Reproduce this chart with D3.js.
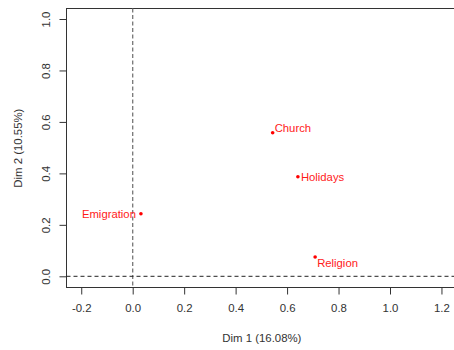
<!DOCTYPE html>
<html>
<head>
<meta charset="utf-8">
<script src="https://cdn.jsdelivr.net/npm/d3@7"></script>
<style>
  html, body { margin: 0; padding: 0; background: #fff; }
  svg { display: block; font-family: "Liberation Sans", Arial, sans-serif; }
</style>
</head>
<body>
<svg id="chart" width="454" height="350"></svg>
<script>
// Variable coordinates on the first two dimensions
const names = ["Church", "Holidays", "Emigration", "Religion"];
const dim1 = [0.544, 0.642, 0.032, 0.709];
const dim2 = [0.558, 0.387, 0.243, 0.075];

const xTicks = [-0.2, 0.0, 0.2, 0.4, 0.6, 0.8, 1.0, 1.2];
const yTicks = [0.0, 0.2, 0.4, 0.6, 0.8, 1.0];
const xTitle = "Dim 1 (16.08%)";
const yTitle = "Dim 2 (10.55%)";

const svg = d3.select("#chart");

// Plot region (the right edge of the frame runs just past the window)
const box = { left: 66.5, top: 8.5, right: 456, bottom: 287.5 };

const x = d3.scaleLinear().domain([0, 1]).range([132.7, 390]);
const y = d3.scaleLinear().domain([0, 1]).range([276.3, 19]);

const axisColor = "#333";
const fontSize = "11.4px";
// one decimal, plain hyphen for negatives
const fmt = d => d3.format(".1f")(d).replace("\u2212", "-");

// Frame
svg.append("rect")
  .attr("x", box.left).attr("y", box.top)
  .attr("width", box.right - box.left).attr("height", box.bottom - box.top)
  .attr("fill", "none").attr("stroke", axisColor).attr("stroke-width", 1);

// Bottom axis
const xAxis = svg.append("g")
  .attr("transform", `translate(0,${box.bottom})`)
  .call(d3.axisBottom(x).tickValues(xTicks).tickSize(7).tickPadding(9)
    .tickFormat(fmt));
xAxis.select(".domain").remove();
xAxis.selectAll("line").attr("stroke", axisColor);
xAxis.selectAll("text").attr("fill", axisColor).style("font-size", fontSize)
  .style("font-family", "Liberation Sans, Arial, sans-serif");

// Left axis, labels rotated vertical
const yAxis = svg.append("g")
  .attr("transform", `translate(${box.left},0)`)
  .call(d3.axisLeft(y).tickValues(yTicks).tickSize(7).tickFormat(fmt));
yAxis.select(".domain").remove();
yAxis.selectAll("line").attr("stroke", axisColor);
yAxis.selectAll("text")
  .attr("x", null).attr("dy", null)
  .attr("text-anchor", "middle")
  .attr("transform", "translate(-21,0) rotate(-90)")
  .attr("dominant-baseline", "central")
  .attr("fill", axisColor).style("font-size", fontSize)
  .style("font-family", "Liberation Sans, Arial, sans-serif");

// Axis titles
svg.append("text")
  .attr("x", (x(-0.2) + x(1.2)) / 2 + 0.5).attr("y", 338)
  .attr("text-anchor", "middle").attr("dominant-baseline", "central")
  .attr("fill", axisColor).style("font-size", fontSize)
  .text(xTitle);

svg.append("text")
  .attr("transform", `translate(18,${(y(0) + y(1)) / 2 + 0.5}) rotate(-90)`)
  .attr("text-anchor", "middle").attr("dominant-baseline", "central")
  .attr("fill", axisColor).style("font-size", fontSize)
  .text(yTitle);

// Reference lines through the origin
const plot = svg.append("g");
plot.append("line")
  .attr("x1", x(0)).attr("x2", x(0)).attr("y1", box.top).attr("y2", box.bottom)
  .attr("stroke", "#777").attr("stroke-width", 1.3).attr("stroke-dasharray", "4,2.5");
plot.append("line")
  .attr("x1", box.left).attr("x2", box.right).attr("y1", y(0)).attr("y2", y(0))
  .attr("stroke", "#222").attr("stroke-width", 1).attr("stroke-dasharray", "4,3");

// Points and labels
const data = names.map((n, i) => ({ name: n, d1: dim1[i], d2: dim2[i] }));

// Label placement around each point, chosen to avoid overlaps
const place = {
  Church:     { anchor: "start", dx: 2,  dy: -5 },
  Holidays:   { anchor: "start", dx: 3,  dy: 0 },
  Emigration: { anchor: "end",   dx: -5, dy: 0 },
  Religion:   { anchor: "start", dx: 2,  dy: 6 }
};

const red = "#ff1a1a";
plot.selectAll("circle.pt").data(data).enter().append("circle")
  .attr("class", "pt")
  .attr("cx", d => x(d.d1)).attr("cy", d => y(d.d2))
  .attr("r", 1.8).attr("fill", "#ff0000");

plot.selectAll("text.lab").data(data).enter().append("text")
  .attr("class", "lab")
  .attr("x", d => x(d.d1) + place[d.name].dx)
  .attr("y", d => y(d.d2) + place[d.name].dy)
  .attr("text-anchor", d => place[d.name].anchor)
  .attr("dominant-baseline", "central")
  .attr("fill", red).style("font-size", "11.3px")
  .text(d => d.name);
</script>
</body>
</html>
